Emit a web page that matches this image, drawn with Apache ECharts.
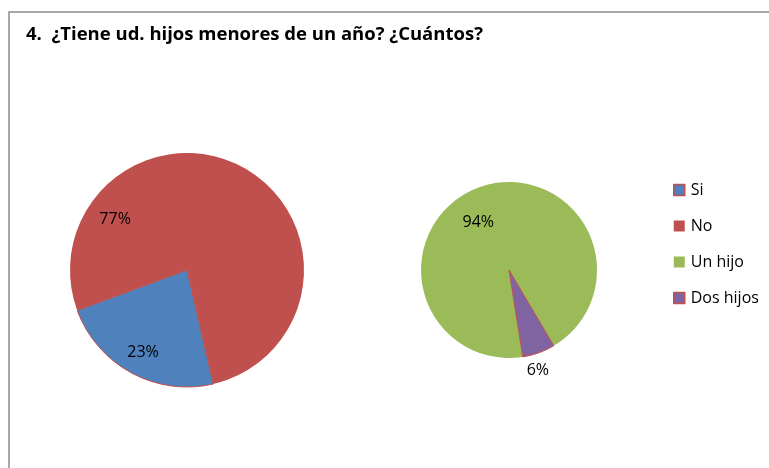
<!DOCTYPE html>
<html>
<head>
<meta charset="utf-8">
<script src="https://cdn.jsdelivr.net/npm/echarts@6/dist/echarts.min.js"></script>
<style>
  html, body { margin: 0; padding: 0; background: #fff; }
  #chart { width: 769px; height: 468px; }
</style>
</head>
<body>
<div id="chart"></div>
<script>
// Question 4: children under one year old, and how many
const titleText = '4.  ¿Tiene ud. hijos menores de un año? ¿Cuántos?';

const hasChildrenLabels = ['Si', 'No'];
const hasChildrenValues = [23, 77];

const howManyLabels = ['Un hijo', 'Dos hijos'];
const howManyValues = [94, 6];

const FONT = '"Open Sans", Lato, sans-serif';
const colors = {
  'Si': '#4F81BD',
  'No': '#C0504D',
  'Un hijo': '#9BBB59',
  'Dos hijos': '#8064A2'
};
// slices outlined in the red accent
const outlined = { 'Si': true, 'Dos hijos': true };

// pie geometry (px)
const leftPie = { cx: 187, cy: 270, r: 117, start: 283 };
const rightPie = { cx: 509, cy: 270, r: 88, start: 279 };

// label placement per slice: polar angle (deg, math convention) and radius ratio
const labelPlacement = [
  [{ ang: -118, k: 0.80 }, { ang: 145, k: 0.75 }],
  [{ ang: 123, k: 0.64 }, { ang: -74, k: 1.19 }]
];
const pies = [leftPie, rightPie];

function buildData(names, values) {
  return names.map((n, i) => ({
    name: n,
    value: values[i],
    itemStyle: {
      color: colors[n],
      borderColor: outlined[n] ? '#C0504D' : colors[n],
      borderWidth: outlined[n] ? 1 : 0
    }
  }));
}

function makeLayout(si) {
  return function (params) {
    const p = pies[si];
    const lp = labelPlacement[si][params.dataIndex];
    const a = lp.ang * Math.PI / 180;
    return {
      x: p.cx + Math.cos(a) * p.r * lp.k,
      y: p.cy - Math.sin(a) * p.r * lp.k,
      align: 'center',
      verticalAlign: 'middle'
    };
  };
}

function pieSeries(si, names, values) {
  const p = pies[si];
  return {
    type: 'pie',
    center: [p.cx, p.cy],
    radius: [0, p.r],
    startAngle: p.start,
    clockwise: true,
    animation: false,
    silent: true,
    label: {
      show: true,
      position: 'inside',
      formatter: '{c}%',
      color: '#000',
      fontFamily: FONT,
      fontSize: 16
    },
    labelLine: { show: false },
    labelLayout: makeLayout(si),
    data: buildData(names, values)
  };
}

const chart = echarts.init(document.getElementById('chart'), null, { renderer: 'canvas' });
chart.setOption({
  backgroundColor: '#fff',
  animation: false,
  title: {
    text: titleText,
    left: 21,
    top: 20,
    textStyle: { fontFamily: FONT, fontWeight: 'bold', fontSize: 18.5, color: '#000' }
  },
  graphic: [{
    type: 'rect',
    shape: { x: 9, y: 12, width: 800, height: 500 },
    style: { fill: null, stroke: '#8c8c8c', lineWidth: 1.5 },
    silent: true
  }],
  legend: {
    orient: 'vertical',
    left: 668,
    top: 177,
    itemWidth: 11,
    itemHeight: 11,
    itemGap: 20,
    icon: 'rect',
    data: hasChildrenLabels.concat(howManyLabels).map(n => ({
      name: n,
      itemStyle: {
        color: colors[n],
        borderColor: outlined[n] ? '#C0504D' : colors[n],
        borderWidth: outlined[n] ? 1.5 : 0
      }
    })),
    textStyle: { fontFamily: FONT, fontSize: 16, lineHeight: 16, color: '#000', padding: [0, 0, 0, 1] },
    selectedMode: false
  },
  series: [
    pieSeries(0, hasChildrenLabels, hasChildrenValues),
    pieSeries(1, howManyLabels, howManyValues)
  ]
});
</script>
</body>
</html>
